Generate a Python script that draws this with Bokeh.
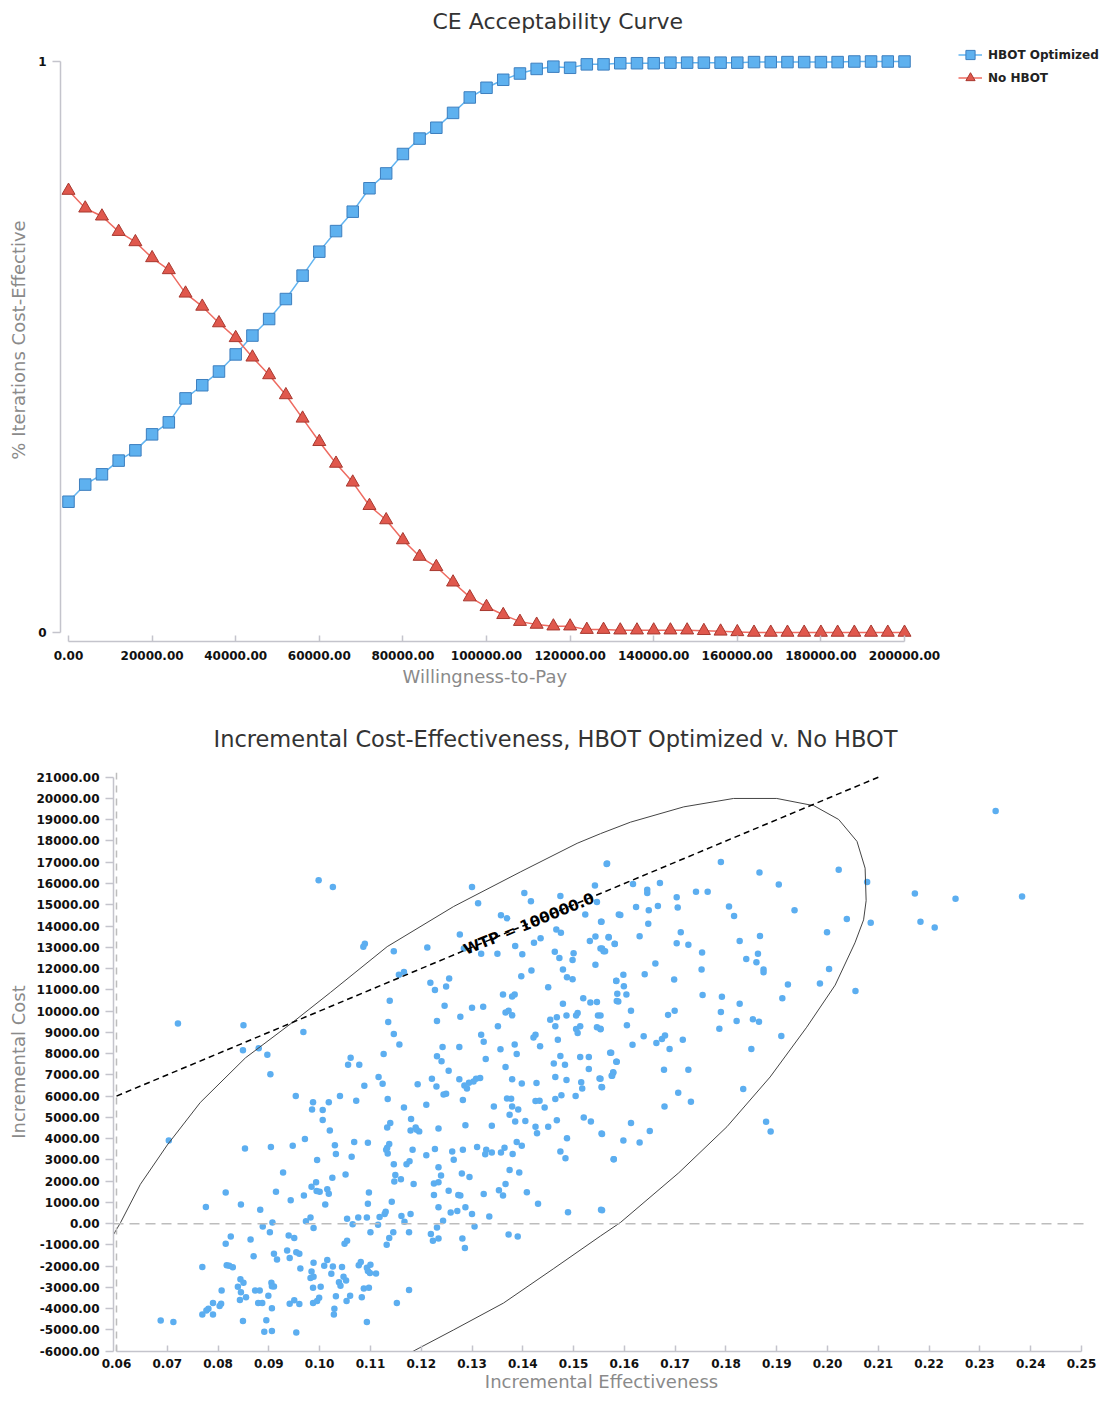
from bokeh.plotting import figure
from bokeh.models import (Range1d, FixedTicker, NumeralTickFormatter, Legend, LegendItem,
                          Span, Label, Title)
from bokeh.embed import file_html
from bokeh.resources import INLINE

FONT = "DejaVu Sans"

# ---------------- CE acceptability curve data ----------------
wtp = [0, 4000, 8000, 12000, 16000, 20000, 24000, 28000, 32000, 36000,
       40000, 44000, 48000, 52000, 56000, 60000, 64000, 68000, 72000, 76000,
       80000, 84000, 88000, 92000, 96000, 100000, 104000, 108000, 112000, 116000,
       120000, 124000, 128000, 132000, 136000, 140000, 144000, 148000, 152000, 156000,
       160000, 164000, 168000, 172000, 176000, 180000, 184000, 188000, 192000, 196000,
       200000]
hbot_optimized = [0.229, 0.259, 0.277, 0.301, 0.319, 0.347, 0.368, 0.410, 0.433, 0.457,
                  0.487, 0.520, 0.549, 0.584, 0.625, 0.667, 0.703, 0.737, 0.778, 0.804,
                  0.838, 0.865, 0.884, 0.910, 0.937, 0.954, 0.968, 0.979, 0.987, 0.991,
                  0.989, 0.995, 0.995, 0.997, 0.997, 0.997, 0.998, 0.998, 0.998, 0.998,
                  0.998, 0.999, 0.999, 0.999, 0.999, 0.999, 0.999, 1.0, 1.0, 1.0,
                  1.0]
no_hbot = [0.774, 0.743, 0.729, 0.702, 0.684, 0.656, 0.635, 0.594, 0.571, 0.542,
           0.516, 0.482, 0.451, 0.416, 0.375, 0.334, 0.296, 0.263, 0.222, 0.197,
           0.162, 0.133, 0.115, 0.088, 0.062, 0.045, 0.031, 0.019, 0.014, 0.011,
           0.011, 0.005, 0.005, 0.004, 0.004, 0.004, 0.004, 0.004, 0.003, 0.002,
           0.001, 0.0, 0.0, 0.0, 0.0, 0.0, 0.0, 0.0, 0.0, 0.0,
           0.0]
wtp_ticks = [0, 20000, 40000, 60000, 80000, 100000, 120000, 140000, 160000, 180000, 200000]
prob_ticks = [0, 1]

# ---------------- Incremental CE plane data ----------------
inc_eff = [
    0.0998, 0.1026, 0.1566, 0.1300, 0.1312, 0.1542, 0.1403, 0.1416, 0.1474, 0.1546,
    0.1589, 0.1523, 0.1357, 0.1369, 0.1554, 0.1466, 0.1475, 0.1276, 0.1532, 0.1543,
    0.1569, 0.1435, 0.1422, 0.1385, 0.1581, 0.1553, 0.1559, 0.1284, 0.1089, 0.1086,
    0.1212, 0.1146, 0.1318, 0.1350, 0.1399, 0.1463, 0.1472, 0.1498, 0.1500, 0.1543,
    0.1417, 0.1479, 0.1156, 0.1166, 0.1397, 0.1487, 0.1498, 0.1255, 0.1218, 0.1249,
    0.1227, 0.1584, 0.1450, 0.1361, 0.1384, 0.1379, 0.1519, 0.1533, 0.1546, 0.1585,
    0.1138, 0.1479, 0.1246, 0.1300, 0.1322, 0.1366, 0.1372, 0.1379, 0.1508, 0.1505,
    0.1548, 0.1277, 0.1454, 0.1467, 0.1486, 0.1231, 0.1135, 0.1351, 0.1464, 0.1505,
    0.1513, 0.1508, 0.1546, 0.1553, 0.1425, 0.1421, 0.1318, 0.1469, 0.1146, 0.0968,
    0.0721, 0.0850, 0.0849, 0.0880, 0.0897, 0.1157, 0.1242, 0.1275, 0.1323, 0.1356,
    0.1384, 0.1434, 0.1388, 0.1126, 0.1061, 0.1056, 0.1078, 0.1231, 0.1240, 0.1327,
    0.1366, 0.1461, 0.1474, 0.1483, 0.1513, 0.1530, 0.1572, 0.1585, 0.1530, 0.1254,
    0.0903, 0.1116, 0.1088, 0.1124, 0.1193, 0.1221, 0.1230, 0.1275, 0.1294, 0.1308,
    0.1316, 0.1303, 0.1285, 0.1290, 0.1379, 0.1398, 0.1427, 0.1464, 0.1486, 0.1515,
    0.1517, 0.1551, 0.1555, 0.1576, 0.1578, 0.1244, 0.1249, 0.0953, 0.0987, 0.1018,
    0.1040, 0.0985, 0.1006, 0.1072, 0.1134, 0.1166, 0.1210, 0.1282, 0.1343, 0.1369,
    0.1377, 0.1379, 0.1391, 0.1425, 0.1433, 0.1443, 0.1464, 0.1476, 0.1504, 0.1520,
    0.1534, 0.1006, 0.1020, 0.1133, 0.1139, 0.1180, 0.1179, 0.1189, 0.1196, 0.1234,
    0.1287, 0.1339, 0.1374, 0.1385, 0.1405, 0.1425, 0.1450, 0.1467, 0.1555, 0.1428,
    0.0703, 0.0853, 0.0904, 0.0947, 0.0971, 0.1030, 0.1032, 0.1068, 0.1095, 0.0995,
    0.1063, 0.1133, 0.1134, 0.1131, 0.1137, 0.1183, 0.1191, 0.1210, 0.1227, 0.1146,
    0.1171, 0.1177, 0.1234, 0.1261, 0.1264, 0.1282, 0.1310, 0.1328, 0.1326, 0.1339,
    0.1357, 0.1364, 0.1380, 0.1388, 0.1398, 0.1474, 0.1484, 0.1487, 0.1579, 0.0928,
    0.1025, 0.1051, 0.1149, 0.1147, 0.1160, 0.1185, 0.1225, 0.1234, 0.1239, 0.1280,
    0.1295, 0.1374, 0.1393, 0.0815, 0.0914, 0.0943, 0.0969, 0.0984, 0.0993, 0.1000,
    0.1015, 0.1018, 0.1011, 0.0994, 0.1097, 0.1095, 0.1142, 0.1225, 0.1254, 0.1273,
    0.1277, 0.1323, 0.1353, 0.1361, 0.1366, 0.1408, 0.1430, 0.1554, 0.1489, 0.0776,
    0.0845, 0.0883, 0.0907, 0.0888, 0.0982, 0.0973, 0.0988, 0.1054, 0.1076, 0.1093,
    0.1118, 0.1128, 0.1130, 0.1115, 0.1065, 0.1161, 0.1167, 0.1179, 0.1145, 0.1176,
    0.1231, 0.1234, 0.1243, 0.1258, 0.1271, 0.1287, 0.1300, 0.1305, 0.1334, 0.0902,
    0.1100, 0.0939, 0.0950, 0.0825, 0.0815, 0.0864, 0.1137, 0.1132, 0.1219, 0.1223,
    0.1234, 0.1281, 0.1286, 0.1372, 0.1390, 0.1049, 0.1054, 0.0936, 0.0941, 0.0954,
    0.0960, 0.0910, 0.0916, 0.0870, 0.0817, 0.0822, 0.0829, 0.0769, 0.0962, 0.0988,
    0.0984, 0.0982, 0.0988, 0.1009, 0.1015, 0.1023, 0.1026, 0.1044, 0.1047, 0.1052,
    0.1038, 0.1041, 0.0987, 0.1002, 0.1077, 0.1081, 0.1093, 0.1100, 0.1095, 0.1099,
    0.1111, 0.0844, 0.0850, 0.0839, 0.0845, 0.0855, 0.0843, 0.0873, 0.0882, 0.0879,
    0.0887, 0.0899, 0.0905, 0.0906, 0.0910, 0.0790, 0.0803, 0.0806, 0.0781, 0.0777,
    0.0769, 0.0790, 0.0807, 0.0895, 0.0906, 0.0891, 0.0906, 0.0849, 0.0687, 0.0712,
    0.0954, 0.0941, 0.0950, 0.0960, 0.0987, 0.0995, 0.0999, 0.1028, 0.1029, 0.1032,
    0.1053, 0.1060, 0.1083, 0.1087, 0.1097, 0.1093, 0.1152, 0.1176,
    0.1565, 0.1617, 0.1645, 0.1645, 0.1670, 0.1790, 0.1866, 0.1904, 0.2022, 0.2078,
    0.2172, 0.2252, 0.2331, 0.2383, 0.1703, 0.1705, 0.1741, 0.1764, 0.1623, 0.1648,
    0.1666, 0.1592, 0.1555, 0.1806, 0.1816, 0.1935, 0.2038, 0.2085, 0.2183, 0.2211,
    0.1647, 0.1569, 0.1630, 0.1581, 0.1556, 0.1562, 0.1703, 0.1711, 0.1726, 0.1753,
    0.1827, 0.1867, 0.1863, 0.1840, 0.1860, 0.1874, 0.1874, 0.1999, 0.2003, 0.1661,
    0.1640, 0.1752, 0.1584, 0.1598, 0.1599, 0.1586, 0.1604, 0.1588, 0.1698, 0.1754,
    0.1792, 0.1790, 0.1827, 0.1821, 0.1853, 0.1865, 0.1787, 0.1911, 0.1922, 0.1985,
    0.2055, 0.1909, 0.1850, 0.1613, 0.1553, 0.1686, 0.1699, 0.1605, 0.1553, 0.1638,
    0.1616, 0.1663, 0.1674, 0.1680, 0.1689, 0.1715, 0.1574, 0.1584, 0.1578, 0.1575,
    0.1553, 0.1556, 0.1678, 0.1726, 0.1706, 0.1731, 0.1679, 0.1834, 0.1613, 0.1650,
    0.1556, 0.1598, 0.1630, 0.1579, 0.1879, 0.1888, 0.1556,
]
inc_cost = [
    16150, 15840, 16940, 15840, 15070, 15910, 15550, 15170, 15410, 15130,
    14540, 14540, 14510, 14360, 14200, 13840, 13680, 13600, 13300, 13510,
    13480, 13420, 13210, 13060, 13170, 12940, 12810, 12940, 13170, 13030,
    12990, 12810, 12700, 12700, 12670, 12790, 12490, 12400, 12720, 12180,
    11910, 11950, 11710, 11840, 11640, 11590, 11500, 11530, 11330, 11150,
    10990, 11420, 11120, 10780, 10780, 10690, 10600, 10400, 10430, 10470,
    10490, 10340, 10250, 10160, 10200, 9930, 10020, 9800, 9910, 9790,
    9790, 9730, 9590, 9710, 9790, 9530, 9480, 9280, 9280, 9150,
    9280, 8970, 9240, 9140, 8880, 8760, 8880, 8650, 8920, 9010,
    9420, 9330, 8160, 8250, 7950, 8430, 8310, 8310, 8560, 8200,
    8430, 8340, 7980, 7980, 7800, 7480, 7480, 7870, 7640, 7750,
    7370, 7530, 7890, 7480, 7840, 7840, 8040, 7620, 7280, 7190,
    7030, 6900, 6490, 6580, 6560, 6810, 6450, 6790, 6630, 6810,
    6850, 6690, 6500, 6360, 6790, 6590, 6610, 6900, 6760, 6650,
    6360, 6830, 6430, 6960, 7100, 6070, 6110, 6000, 5710, 5710,
    6000, 5370, 5350, 5780, 5860, 5460, 5590, 5820, 5510, 5890,
    5870, 5510, 5370, 5770, 5780, 5460, 5860, 6040, 6000, 4990,
    4810, 4870, 4380, 4520, 4740, 4920, 4380, 4520, 4340, 4470,
    4630, 4610, 5120, 4810, 4830, 4560, 4560, 4860, 4240, 4250,
    3910, 3530, 3600, 3660, 3980, 3690, 3280, 3840, 3800, 2990,
    3150, 3570, 3300, 3480, 3750, 3480, 4420, 3220, 3510, 2790,
    2790, 2940, 2650, 3390, 3010, 3480, 3610, 3480, 3260, 3350,
    3350, 3570, 3280, 3840, 3660, 3390, 3080, 4020, 3030, 2400,
    2160, 2310, 2290, 1980, 2090, 1860, 1890, 1950, 2270, 2360,
    2200, 2520, 2400, 1460, 1500, 1100, 1320, 1730, 1950, 1500,
    1620, 1410, 900, 1530, 1460, 940, 1030, 1350, 1550, 1350,
    1320, 1390, 1570, 1320, 1860, 1480, 940, 650, 540, 780,
    900, 650, 50, -130, 290, 110, -200, 230, 290, 290,
    310, 450, 560, -50, -30, 360, 90, 450, -400, -410,
    -180, 770, 140, 520, 590, 770, 450, -140, 340, -410,
    -410, -560, -670, -600, -940, -740, -680, -990, -490, -810,
    -700, -700, -1150, -510, -610, -940, -810, -1260, -1620, -1350,
    -1420, -1420, -1690, -1530, -1960, -1980, -2050, -2040, -2110, -1840,
    -2250, -2560, -2500, -1980, -1710, -2360, -2020, -2040, -2500, -2680,
    -2760, -2920, -3010, -2970, -1960, -1800, -2070, -1930, -2230, -2320,
    -2340, -2610, -2780, -2970, -3230, -3460, -3590, -3140, -3150, -3730,
    -3730, -3390, -2780, -2940, -2960, -3730, -3870, -3770, -4000, -4090,
    -4270, -4270, -3150, -4540, -3980, -5080, -5050, -4580, -4560, -4630,
    -5120, -3770, -3600, -3780, -3730, -3640, -3480, -4270, -4000, -3410,
    -3640, -3390, -3460, -3050, -3010, -4630, -3730, -3120,
    16920, 15980, 15700, 15550, 16020, 17010, 16520, 15950, 16650, 16070,
    15530, 15280, 19410, 15390, 15350, 14870, 15610, 15610, 14900, 14740,
    14940, 14520, 14200, 14920, 14470, 14740, 14330, 14150, 14200, 13930,
    14110, 13460, 13520, 13150, 12940, 12810, 13190, 13710, 13120, 12760,
    13300, 13530, 12700, 12450, 12290, 11960, 11820, 13710, 11980, 12240,
    11730, 11950, 11410, 11710, 11170, 10810, 10780, 10450, 11480, 10760,
    10670, 9960, 10340, 9530, 9620, 9500, 9170, 10600, 11250, 11300,
    10940, 8830, 8220, 10020, 9790, 9820, 10020, 9330, 9170, 8810,
    8410, 8500, 8690, 8850, 8220, 8650, 8040, 7620, 7120, 6960,
    6810, 6420, 7240, 7240, 6160, 5730, 5510, 6330, 4740, 4360,
    4220, 3910, 3820, 3030, 4790, 4340, 630,
]
ellipse_eff = [0.0592, 0.0608, 0.0647, 0.0700, 0.0765, 0.0854, 0.0949, 0.1021, 0.1133, 0.1264,
               0.1395, 0.1507, 0.1553, 0.1612, 0.1717, 0.1815, 0.1900, 0.1973, 0.2022, 0.2058,
               0.2074, 0.2076, 0.2071, 0.2054, 0.2015, 0.1959, 0.1887, 0.1802, 0.1707, 0.1592,
               0.1553, 0.1461, 0.1362, 0.1264, 0.1185, 0.1120]
ellipse_cost = [-600, 50, 1850, 3700, 5700, 7800, 9510, 10870, 13030, 14920,
                16540, 17890, 18345, 18885, 19605, 20000, 20000, 19660, 19010, 17980,
                16720, 15190, 14290, 13210, 11220, 9240, 6900, 4560, 2390, 50,
                -580, -2110, -3735, -4995, -5990, -6700]
wtp_line_eff = [0.06, 0.21]
wtp_line_cost = [6000, 21000]
eff_ticks = [0.06, 0.07, 0.08, 0.09, 0.10, 0.11, 0.12, 0.13, 0.14, 0.15,
             0.16, 0.17, 0.18, 0.19, 0.20, 0.21, 0.22, 0.23, 0.24, 0.25]
cost_ticks = [-6000, -5000, -4000, -3000, -2000, -1000, 0, 1000, 2000, 3000, 4000, 5000, 6000,
              7000, 8000, 9000, 10000, 11000, 12000, 13000, 14000, 15000, 16000, 17000,
              18000, 19000, 20000, 21000]

AXIS_COLOR = "#c4c4cc"
TITLE_COLOR = "#333333"
LABEL_COLOR = "#8a8a8a"


def style_axes(p):
    for ax in (p.xaxis[0], p.yaxis[0]):
        ax.axis_line_color = AXIS_COLOR
        ax.axis_line_width = 1.5
        ax.major_tick_line_color = AXIS_COLOR
        ax.major_tick_line_width = 1.5
        ax.minor_tick_line_color = None
        ax.major_label_text_font = FONT
        ax.major_label_text_font_size = "12px"
        ax.major_label_text_font_style = "bold"
        ax.major_label_text_color = "#111111"
        ax.axis_label_text_font = FONT
        ax.axis_label_text_font_size = "18px"
        ax.axis_label_text_font_style = "normal"
        ax.axis_label_text_color = LABEL_COLOR
    p.xaxis.major_tick_in = 6
    p.xaxis.major_tick_out = 0
    p.yaxis.major_tick_in = 0
    p.yaxis.major_tick_out = 8
    p.xgrid.visible = False
    p.ygrid.visible = False
    p.outline_line_color = None
    p.title.text_font = FONT
    p.title.text_font_style = "normal"
    p.title.text_color = TITLE_COLOR
    p.title.align = "left"


# ================= Top chart =================
p1 = figure(width=1111, height=689, output_backend="svg", toolbar_location=None,
            x_range=Range1d(-1914, 248086), y_range=Range1d(-0.0158, 1.0403),
            min_border_left=60, min_border_right=6, min_border_top=38, min_border_bottom=48,
            title="CE Acceptability Curve")
style_axes(p1)
p1.title.text_font_size = "22px"
p1.title.offset = 372
p1.title.standoff = 10
p1.xaxis.ticker = FixedTicker(ticks=wtp_ticks)
p1.xaxis.formatter = NumeralTickFormatter(format="0.00")
p1.yaxis.ticker = FixedTicker(ticks=prob_ticks)
p1.yaxis.formatter = NumeralTickFormatter(format="0")
p1.xaxis.bounds = (0, 200000)
p1.yaxis.bounds = (0, 1)
p1.yaxis.axis_label = "% Iterations Cost-Effective"
p1.xaxis.major_label_standoff = 9
p1.yaxis.major_label_standoff = 6
p1.yaxis.axis_label_standoff = 6
p1.add_layout(Title(text="Willingness-to-Pay", align="left", offset=342, standoff=2,
                    text_font=FONT, text_font_size="18px", text_font_style="normal",
                    text_color=LABEL_COLOR), "below")

BLUE_LINE = "#62b4f0"
BLUE_FILL = "#5eb1ef"
BLUE_EDGE = "#3d7fbf"
RED_LINE = "#ee6b61"
RED_FILL = "#e0584d"
RED_EDGE = "#a8382f"

l1 = p1.line(wtp, hbot_optimized, line_color=BLUE_LINE, line_width=1.5)
s1 = p1.scatter(wtp, hbot_optimized, marker="square", size=11.5, fill_color=BLUE_FILL,
                line_color=BLUE_EDGE, line_width=1)
l2 = p1.line(wtp, no_hbot, line_color=RED_LINE, line_width=1.5)
s2 = p1.scatter(wtp, no_hbot, marker="triangle", size=13, fill_color=RED_FILL,
                line_color=RED_EDGE, line_width=1)

legend = Legend(items=[LegendItem(label="HBOT Optimized", renderers=[l1, s1]),
                       LegendItem(label="No HBOT", renderers=[l2, s2])],
                location=(898, 552), orientation="vertical")
legend.border_line_color = None
legend.background_fill_alpha = 0
legend.padding = 0
legend.margin = 0
legend.spacing = 0
legend.glyph_width = 24
legend.glyph_height = 23
legend.label_height = 23
legend.label_standoff = 6
legend.label_text_font = FONT
legend.label_text_font_size = "12px"
legend.label_text_font_style = "bold"
legend.label_text_color = "#222222"
p1.add_layout(legend)

# ================= Bottom chart =================
p2 = figure(width=1111, height=706, output_backend="svg", toolbar_location=None,
            x_range=Range1d(0.05941, 0.25158), y_range=Range1d(-6014, 21221),
            min_border_left=113, min_border_right=22, min_border_top=83, min_border_bottom=44,
            title="Incremental Cost-Effectiveness, HBOT Optimized v. No HBOT")
style_axes(p2)
p2.title.text_font_size = "22.5px"
p2.title.offset = 100
p2.title.standoff = 41
p2.xaxis.ticker = FixedTicker(ticks=eff_ticks)
p2.xaxis.formatter = NumeralTickFormatter(format="0.00")
p2.yaxis.ticker = FixedTicker(ticks=cost_ticks)
p2.yaxis.formatter = NumeralTickFormatter(format="0.00")
p2.xaxis.bounds = (0.06, 0.25)
p2.yaxis.bounds = (-6000, 21000)
p2.xaxis.axis_label = "Incremental Effectiveness"
p2.yaxis.axis_label = "Incremental Cost"
p2.xaxis.major_label_standoff = 7
p2.xaxis.axis_label_standoff = 0
p2.yaxis.major_label_standoff = 6
p2.yaxis.axis_label_standoff = 4

p2.add_layout(Span(location=0, dimension="width", line_color="#bdbdbd",
                   line_dash="10 6", line_width=1.5))
p2.add_layout(Span(location=0.06, dimension="height", line_color="#bdbdbd",
                   line_dash="7 6", line_width=1.5))

p2.scatter(inc_eff, inc_cost, marker="circle", size=6.5, fill_color="#5caef0", line_color=None)
p2.line(ellipse_eff, ellipse_cost, line_color="#444444", line_width=1)
p2.line(wtp_line_eff, wtp_line_cost, line_color="#000000", line_dash="6 4", line_width=1.5)
p2.add_layout(Label(x=0.1285, y=12850, text="WTP = 100000.0", angle=0.39,
                    text_font=FONT, text_font_size="15px", text_font_style="bold",
                    text_color="#000000", text_align="left", text_baseline="alphabetic"))

open("out.html", "w").write(file_html([p1, p2], INLINE))
